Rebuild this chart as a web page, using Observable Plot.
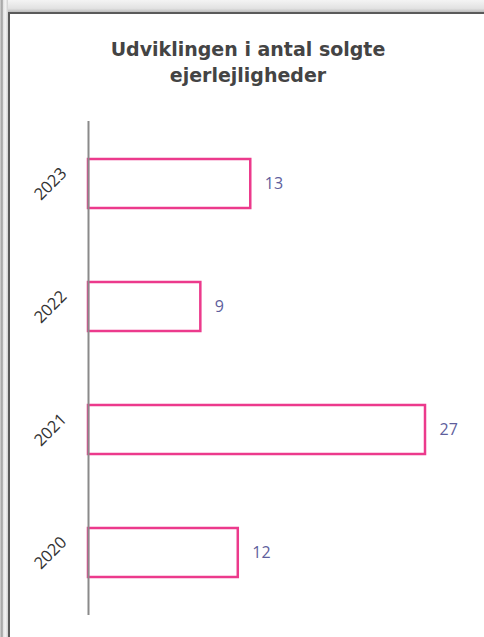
<!DOCTYPE html>
<html>
<head>
<meta charset="utf-8">
<script src="https://cdn.jsdelivr.net/npm/d3@7"></script>
<script src="https://cdn.jsdelivr.net/npm/@observablehq/plot@0.6"></script>
<style>
  html, body { margin: 0; padding: 0; background: #fff; width: 484px; height: 637px; overflow: hidden; }
  #topband { position: absolute; left: 0; top: 0; width: 484px; height: 12px;
    background: linear-gradient(to bottom, #f4f4f4, #e2e2e2 70%, #bdbdbd); }
  #leftband { position: absolute; left: 0; top: 0; width: 8px; height: 637px;
    background: linear-gradient(to right, #d8d8d8, #9a9a9a 25%, #e8e8e8 45%, #f2f2f2 70%, #cfcfcf); }
  #box { position: absolute; left: 8px; top: 12px; width: 490px; height: 640px;
    border-left: 2px solid #5a5a5a; border-top: 2px solid #5a5a5a; background: #fff; }
  #title { position: absolute; left: 0; top: 36px; width: 496px; text-align: center;
    font-family: "DejaVu Sans", sans-serif; font-weight: bold; font-size: 19px; line-height: 26px; color: #444; }
  #chart { position: absolute; left: 0; top: 100px; }
</style>
</head>
<body>
<div id="topband"></div>
<div id="leftband"></div>
<div id="box"></div>
<div id="title">Udviklingen i antal solgte<br>ejerlejligheder</div>
<div id="chart"></div>
<script>
const years = ["2023", "2022", "2021", "2020"];
const counts = [13, 9, 27, 12];

const data = years.map((y, i) => ({year: y, count: counts[i]}));

const chart = Plot.plot({
  width: 484,
  height: 537,
  marginLeft: 88,
  marginRight: 59,
  marginTop: 21,
  marginBottom: 22,
  style: {background: "transparent", fontFamily: "Open Sans, sans-serif"},
  x: {domain: [0, d3.max(counts)], axis: null},
  y: {domain: years, paddingInner: 0.6, paddingOuter: 0.3, axis: null},
  marks: [
    Plot.barX(data, {y: "year", x: "count", fill: "white", stroke: "#ec3a8c", strokeWidth: 2.5}),
    Plot.ruleX([0], {stroke: "#8a8a8a", strokeWidth: 2}),
    Plot.text(data, {x: "count", y: "year", text: d => String(d.count), dx: 14, textAnchor: "start",
      fill: "#5e5e9c", fontSize: 16}),
    Plot.text(data, {y: "year", text: "year", frameAnchor: "left", dx: -38, rotate: -45,
      textAnchor: "middle", fill: "#333", fontSize: 16.5})
  ]
});
document.getElementById("chart").appendChild(chart);
</script>
</body>
</html>
